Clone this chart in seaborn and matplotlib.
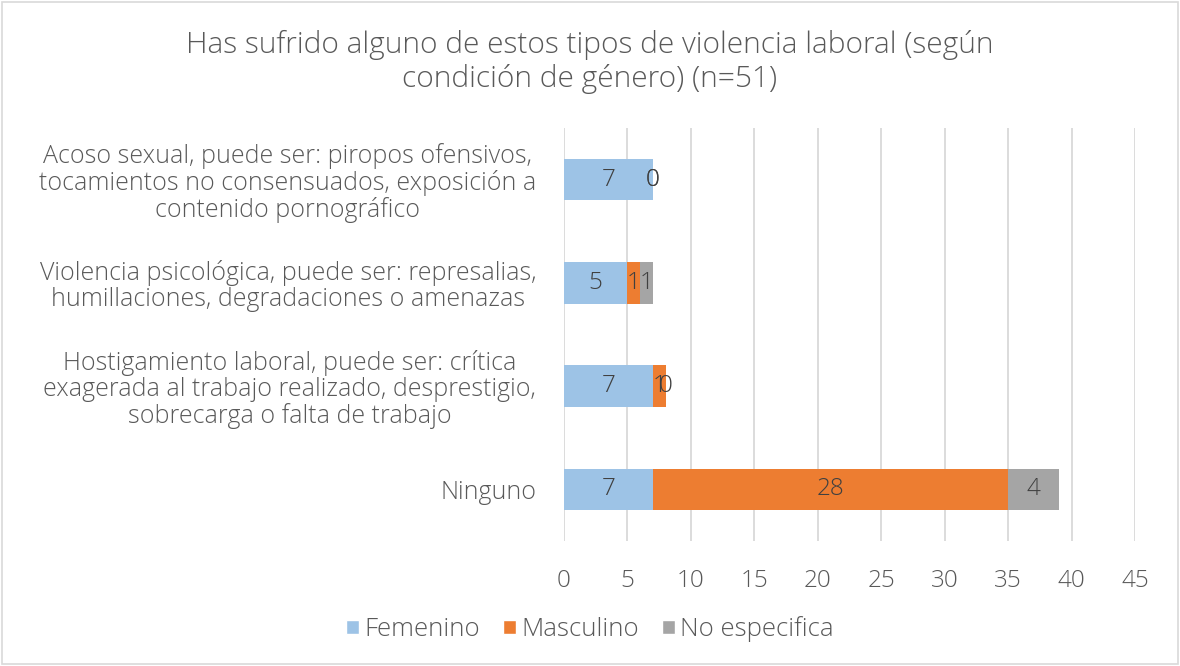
import pandas as pd
import numpy as np
import matplotlib.pyplot as plt
import seaborn as sns
from matplotlib.patches import Patch, Rectangle

# Data
categorias = [
    "Acoso sexual, puede ser: piropos ofensivos,\ntocamientos no consensuados, exposición a\ncontenido pornográfico",
    "Violencia psicológica, puede ser: represalias,\nhumillaciones, degradaciones o amenazas",
    "Hostigamiento laboral, puede ser: crítica\nexagerada al trabajo realizado, desprestigio,\nsobrecarga o falta de trabajo",
    "Ninguno",
]
femenino = [7, 5, 7, 7]
masculino = [0, 1, 1, 28]
no_especifica = [0, 1, 0, 4]

series = ["Femenino", "Masculino", "No especifica"]
colores = ["#9DC3E6", "#ED7D31", "#A5A5A5"]
texto = "#595959"

sns.set_theme(style="white")
plt.rcParams['font.family'] = ['Open Sans', 'DejaVu Sans']
plt.rcParams['font.weight'] = 'light'

df = pd.DataFrame({"categoria": categorias, "Femenino": femenino,
                   "Masculino": masculino, "No especifica": no_especifica})
df["fm"] = df["Femenino"] + df["Masculino"]
df["total"] = df["fm"] + df["No especifica"]

fig = plt.figure(figsize=(11.8, 6.66), dpi=100)
ax = fig.add_axes([564 / 1180, 1 - 541 / 666, 571 / 1180, 413 / 666])

# stacked bars drawn as overlapping cumulative bars
for col, c in zip(["total", "fm", "Femenino"], colores[::-1]):
    sns.barplot(data=df, x=col, y="categoria", orient="h", color=c,
                saturation=1, width=0.4, linewidth=0, ax=ax, zorder=3)

# data labels
left = np.zeros(len(df))
for s in series:
    vals = df[s].values
    for i, v in enumerate(vals):
        ax.text(left[i] + v / 2, i, str(v), ha="center", va="center",
                fontsize=17.5, color="#404040", zorder=5)
    left = left + vals

ax.set_xlim(0, 45)
ax.set_ylim(3.5, -0.5)
ax.set_xticks(range(0, 46, 5))
ax.xaxis.grid(True, color="#D9D9D9", linewidth=1.3, zorder=0)
ax.set_axisbelow(True)
for sp in ax.spines.values():
    sp.set_visible(False)
ax.set_xlabel("")
ax.set_ylabel("")
ax.tick_params(axis="x", labelsize=17.5, labelcolor=texto, pad=20, length=0)
ax.tick_params(axis="y", labelsize=18, labelcolor=texto, pad=20, length=0)
for lab in ax.get_yticklabels():
    lab.set_multialignment("center")
    lab.set_linespacing(1.05)

fig.text(0.5, 1 - 62 / 666, "Has sufrido alguno de estos tipos de violencia laboral (según\ncondición de género) (n=51)",
         ha="center", va="center", fontsize=21.5, color=texto, linespacing=1.2)

handles = [Patch(facecolor=c, label=s) for s, c in zip(series, colores)]
fig.legend(handles=handles, loc="center", bbox_to_anchor=(0.5, 1 - 629 / 666), ncol=3,
           frameon=False, fontsize=18.5, labelcolor=texto, handlelength=0.5,
           handleheight=0.5, handletextpad=0.2, columnspacing=0.9)

fig.patches.append(Rectangle((0.002, 0.003), 0.996, 0.994, transform=fig.transFigure,
                             fill=False, edgecolor="#D9D9D9", linewidth=1.2))

fig.savefig("out.png", dpi=100)
